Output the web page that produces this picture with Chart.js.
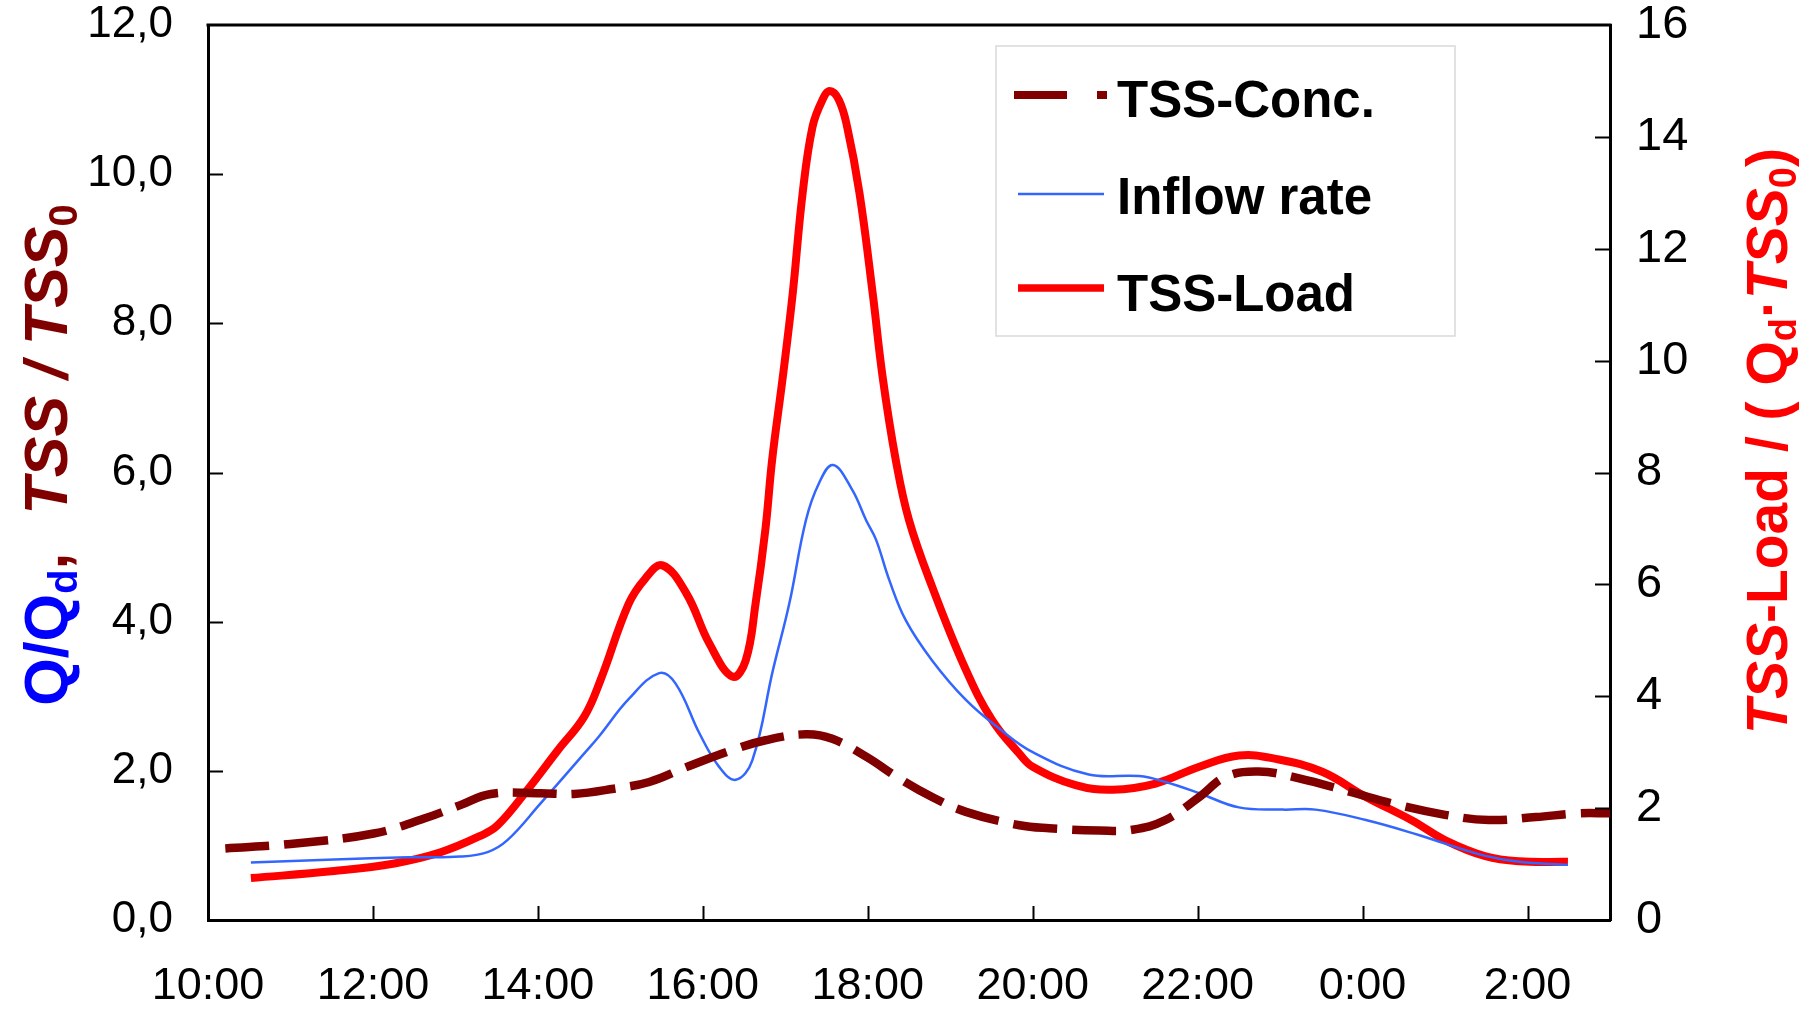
<!DOCTYPE html>
<html><head><meta charset="utf-8">
<script src="https://cdn.jsdelivr.net/npm/chart.js@4.4.0/dist/chart.umd.min.js"></script>
<style>html,body{margin:0;padding:0;background:#fff;overflow:hidden}#wrap{width:1807px;height:1011px;position:relative}</style>
</head><body><div id="wrap"><canvas id="c" width="1807" height="1011"></canvas></div>
<script>
// ---- data (x in hours since 0:00 of the first day; 24 = 0:00 next day) ----
const xTickHours = [10, 12, 14, 16, 18, 20, 22, 24, 26];
const leftTicks = [0, 2, 4, 6, 8, 10, 12];
const rightTicks = [0, 2, 4, 6, 8, 10, 12, 14, 16];
const seriesNames = ['TSS-Conc.', 'Inflow rate', 'TSS-Load'];

const concHours = [10.21, 11.0, 12.01, 12.62, 13.06, 13.43, 14.03, 14.44, 14.92, 15.35, 15.8, 16.36, 16.76, 17.25, 17.57, 17.98, 18.38, 18.78, 19.19, 19.84, 20.2, 20.81, 21.21, 21.61, 22.02, 22.34, 22.74, 23.23, 23.84, 24.44, 25.0, 25.53, 26.1, 26.62, 27.0];
const concValues = [0.96, 1.02, 1.16, 1.36, 1.54, 1.69, 1.70, 1.69, 1.76, 1.85, 2.05, 2.28, 2.41, 2.49, 2.43, 2.19, 1.90, 1.65, 1.45, 1.27, 1.23, 1.20, 1.21, 1.34, 1.65, 1.92, 1.99, 1.90, 1.72, 1.54, 1.41, 1.34, 1.38, 1.43, 1.43];

const inflowHours = [10.52, 11.53, 12.42, 13.06, 13.39, 13.63, 14.03, 14.56, 14.74, 15.1, 15.47, 15.67, 15.96, 16.2, 16.4, 16.6, 16.85, 17.05, 17.25, 17.41, 17.58, 17.81, 17.98, 18.1, 18.26, 18.46, 18.78, 19.19, 19.59, 20.0, 20.68, 21.29, 21.61, 22.02, 22.5, 23.03, 23.43, 24.04, 24.68, 25.01, 25.49, 25.9, 26.49];
const inflowValues = [0.77, 0.81, 0.84, 0.85, 0.91, 1.07, 1.56, 2.23, 2.46, 2.96, 3.31, 3.17, 2.50, 2.05, 1.88, 2.14, 3.35, 4.25, 5.36, 5.86, 6.10, 5.77, 5.36, 5.10, 4.56, 4.02, 3.48, 2.95, 2.57, 2.25, 1.95, 1.93, 1.85, 1.70, 1.51, 1.48, 1.48, 1.34, 1.14, 1.02, 0.86, 0.78, 0.74];

const loadHours = [10.52, 11.53, 12.26, 12.82, 13.31, 13.51, 13.87, 14.24, 14.56, 14.76, 15.1, 15.3, 15.51, 15.8, 16.08, 16.36, 16.52, 16.64, 16.76, 16.84, 16.97, 17.09, 17.21, 17.33, 17.45, 17.54, 17.65, 17.75, 17.9, 18.06, 18.18, 18.34, 18.5, 18.78, 19.19, 19.51, 19.84, 20.0, 20.52, 20.97, 21.49, 22.02, 22.5, 22.95, 23.51, 24.04, 24.6, 25.01, 25.49, 25.9, 26.49];
const loadValues = [0.75, 0.875, 1.01, 1.21, 1.51, 1.69, 2.32, 3.03, 3.63, 4.29, 5.65, 6.1, 6.34, 5.84, 4.94, 4.35, 4.64, 5.66, 7.0, 8.22, 9.71, 11.2, 12.99, 14.18, 14.66, 14.82, 14.66, 14.18, 12.99, 11.2, 9.71, 8.22, 7.15, 5.96, 4.47, 3.57, 2.97, 2.74, 2.41, 2.33, 2.44, 2.74, 2.94, 2.88, 2.65, 2.20, 1.78, 1.42, 1.14, 1.05, 1.04];

// ---- styles ----
const FONT = "'Liberation Sans', Arial, Helvetica, sans-serif";
const C_CONC = '#800000', C_FLOW = '#3366FF', C_LOAD = '#FF0000';

const pts = (hs, vs) => hs.map((h, i) => ({ x: h, y: vs[i] }));

function drawRich(ctx, parts, cx, cy) {
  ctx.save();
  ctx.translate(cx, cy);
  ctx.rotate(-Math.PI / 2);
  ctx.textBaseline = 'alphabetic';
  ctx.textAlign = 'left';
  let total = 0;
  const widths = parts.map(p => { ctx.font = p.font; const w = ctx.measureText(p.text).width + (p.gap || 0); total += w; return w; });
  let x = -total / 2;
  parts.forEach((p, i) => {
    ctx.font = p.font; ctx.fillStyle = p.color;
    ctx.fillText(p.text, x, p.dy || 0);
    x += widths[i];
  });
  ctx.restore();
}

const noPad = s => { s.paddingTop = 0; s.paddingBottom = 0; };

const decor = {
  id: 'decor',
  afterDraw(chart) {
    const { ctx, chartArea: a, scales } = chart;
    ctx.save();
    ctx.strokeStyle = '#000';
    ctx.lineCap = 'butt';
    ctx.lineWidth = 3;
    ctx.beginPath(); ctx.moveTo(a.left - 1.5, a.top); ctx.lineTo(a.right + 1.5, a.top); ctx.stroke();
    ctx.lineWidth = 2;
    ctx.beginPath();
    scales.x.ticks.forEach(t => {
      if (t.value <= scales.x.min) return;
      const px = Math.round(scales.x.getPixelForValue(t.value)) + 0.5;
      ctx.moveTo(px, a.bottom); ctx.lineTo(px, a.bottom - 14);
    });
    scales.y.ticks.forEach(t => {
      if (t.value <= scales.y.min || t.value >= scales.y.max) return;
      const py = Math.round(scales.y.getPixelForValue(t.value)) + 0.5;
      ctx.moveTo(a.left, py); ctx.lineTo(a.left + 15, py);
    });
    scales.y1.ticks.forEach(t => {
      if (t.value <= scales.y1.min || t.value >= scales.y1.max) return;
      const py = Math.round(scales.y1.getPixelForValue(t.value)) + 0.5;
      ctx.moveTo(a.right, py); ctx.lineTo(a.right - 15, py);
    });
    ctx.stroke();

    // legend
    ctx.fillStyle = '#fff';
    ctx.fillRect(996, 46, 459, 290);
    ctx.strokeStyle = '#d9d9d9'; ctx.lineWidth = 1.5;
    ctx.strokeRect(996, 46, 459, 290);
    ctx.strokeStyle = C_CONC; ctx.lineWidth = 8;
    ctx.beginPath(); ctx.moveTo(1014, 95); ctx.lineTo(1067, 95); ctx.moveTo(1097, 95); ctx.lineTo(1107, 95); ctx.stroke();
    ctx.strokeStyle = C_FLOW; ctx.lineWidth = 2.7;
    ctx.beginPath(); ctx.moveTo(1018, 194); ctx.lineTo(1104, 194); ctx.stroke();
    ctx.strokeStyle = C_LOAD; ctx.lineWidth = 7.5;
    ctx.beginPath(); ctx.moveTo(1018, 288); ctx.lineTo(1104, 288); ctx.stroke();
    ctx.fillStyle = '#000';
    ctx.font = 'bold 51px ' + FONT;
    ctx.textAlign = 'left'; ctx.textBaseline = 'alphabetic';
    ctx.fillText(seriesNames[0], 1117, 117);
    ctx.fillText(seriesNames[1], 1117, 214);
    ctx.fillText(seriesNames[2], 1117, 311);

    // axis titles
    const fL = 61, fLs = 40;
    drawRich(ctx, [
      { text: 'Q/Q', font: `bold ${fL}px ${FONT}`, color: '#0000FF' },
      { text: 'd', font: `bold ${fLs}px ${FONT}`, color: '#0000FF', dy: 10 },
      { text: ',', font: `bold ${fL}px ${FONT}`, color: C_CONC, gap: 38 },
      { text: 'TSS / TSS', font: `italic bold ${fL}px ${FONT}`, color: C_CONC },
      { text: '0', font: `bold ${fLs}px ${FONT}`, color: C_CONC, dy: 10 }
    ], 67, 455);

    const fR = 57, fRs = 38;
    drawRich(ctx, [
      { text: 'TSS', font: `italic bold ${fR}px ${FONT}`, color: C_LOAD },
      { text: '-Load / ( Q', font: `bold ${fR}px ${FONT}`, color: C_LOAD },
      { text: 'd', font: `bold ${fRs}px ${FONT}`, color: C_LOAD, dy: 9 },
      { text: '\u00B7', font: `bold ${fR}px ${FONT}`, color: C_LOAD },
      { text: 'TSS', font: `italic bold ${fR}px ${FONT}`, color: C_LOAD },
      { text: '0', font: `bold ${fRs}px ${FONT}`, color: C_LOAD, dy: 9 },
      { text: ')', font: `bold ${fR}px ${FONT}`, color: C_LOAD }
    ], 1787, 441);
    ctx.restore();
  }
};

const ctx = document.getElementById('c').getContext('2d');
new Chart(ctx, {
  type: 'line',
  data: {
    datasets: [
      { label: seriesNames[0], data: pts(concHours, concValues), yAxisID: 'y', borderColor: C_CONC, borderWidth: 8.5, borderDash: [44, 15], borderCapStyle: 'butt', pointRadius: 0, tension: 0.4, fill: false },
      { label: seriesNames[1], data: pts(inflowHours, inflowValues), yAxisID: 'y', borderColor: C_FLOW, borderWidth: 2.5, pointRadius: 0, tension: 0.4, fill: false },
      { label: seriesNames[2], data: pts(loadHours, loadValues), yAxisID: 'y1', borderColor: C_LOAD, borderWidth: 8, borderJoinStyle: 'round', pointRadius: 0, tension: 0.4, fill: false }
    ]
  },
  options: {
    responsive: false,
    animation: false,
    layout: { padding: { top: 25, left: 0, right: 0, bottom: 0 } },
    plugins: { legend: { display: false }, tooltip: { enabled: false } },
    scales: {
      x: {
        type: 'linear', position: 'bottom', min: 10, max: 27,
        afterBuildTicks: s => { s.ticks = xTickHours.map(v => ({ value: v })); },
        afterFit: s => { s.height = 91; s.paddingLeft = 0; s.paddingRight = 0; },
        grid: { display: false, drawTicks: false },
        border: { display: true, color: '#000', width: 3 },
        ticks: { autoSkip: false, maxRotation: 0, padding: 40, color: '#000', font: { family: FONT, size: 45 }, callback: v => (v % 24) + ':00' }
      },
      y: {
        type: 'linear', position: 'left', min: 0, max: 12,
        afterBuildTicks: s => { s.ticks = leftTicks.map(v => ({ value: v })); },
        afterFit: s => { s.width = 208; noPad(s); },
        grid: { display: false, drawTicks: false },
        border: { display: true, color: '#000', width: 3 },
        ticks: { padding: 35, color: '#000', font: { family: FONT, size: 44 }, callback: v => Number(v).toFixed(1).replace('.', ',') }
      },
      y1: {
        type: 'linear', position: 'right', min: 0, max: 16,
        afterBuildTicks: s => { s.ticks = rightTicks.map(v => ({ value: v })); },
        afterFit: s => { s.width = 197; noPad(s); },
        grid: { display: false, drawTicks: false },
        border: { display: true, color: '#000', width: 3 },
        ticks: { padding: 26, color: '#000', font: { family: FONT, size: 47 }, callback: v => String(v) }
      }
    }
  },
  plugins: [decor]
});
</script>
</body></html>
